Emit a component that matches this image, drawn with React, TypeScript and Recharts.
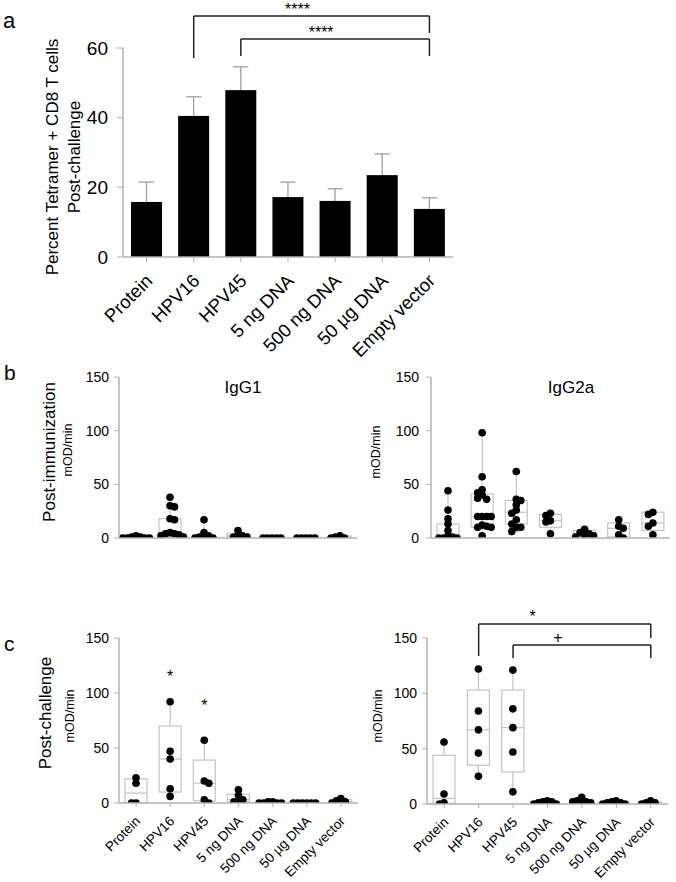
import React from 'react';
import { BarChart, ComposedChart, Bar, XAxis, YAxis, ReferenceLine, ReferenceDot } from 'recharts';

// ---------- categories ----------
const groups = ['Protein', 'HPV16', 'HPV45', '5 ng DNA', '500 ng DNA', '50 µg DNA', 'Empty vector'];

// ---------- panel a : % tetramer+ CD8 T cells ----------
const tetramerMean = [15.8, 40.5, 47.9, 17.2, 16.1, 23.5, 13.8];
const tetramerSem = [5.7, 5.5, 6.7, 4.3, 3.5, 6.1, 3.2];
const tetramerTicks = [0, 20, 40, 60];
const tetramerBrackets = [
  { from: 'HPV16', to: 'Empty vector', top: 69.2, leftEnd: 57.1, rightEnd: 64.3, text: '****' },
  { from: 'HPV45', to: 'Empty vector', top: 62.6, leftEnd: 57.7, rightEnd: 57.7, text: '****' },
];

// ---------- panel b : post-immunization ----------
const odTicks = [0, 50, 100, 150];
const igg1Imm = [
  [2, 1, 1, 0, 0, 0, 0],
  [38, 30, 29, 18, 17, 5, 4, 4, 3, 2, 1],
  [17, 5, 2, 1, 0, 0, 0],
  [7, 2, 2, 1, 1],
  [0, 0, 0, 0, 0],
  [0, 0, 0, 0, 0],
  [2, 1, 0, 0],
];
const igg1ImmQ1 = [0, 2, 0, 1, 0, 0, 0];
const igg1ImmMed = [0, 4, 1, 2, 0, 0, 1];
const igg1ImmQ3 = [1, 18, 3, 4, 0, 0, 2];

const igg2aImm = [
  [44, 26, 18, 13, 7, 2, 1, 0, 0, 0],
  [98, 57, 45, 42, 40, 37, 36, 20, 20, 20, 20, 12, 11, 10, 10, 2],
  [62, 36, 35, 31, 26, 23, 17, 13, 10, 10, 6],
  [23, 21, 16, 15, 4],
  [8, 5, 4, 3, 2, 1],
  [17, 11, 9, 3, 0],
  [24, 22, 14, 11, 3],
];
const igg2aImmQ1 = [0, 10, 13, 10, 2, 1, 7];
const igg2aImmMed = [2, 20, 24, 16, 4, 9, 14];
const igg2aImmQ3 = [13, 41, 35, 22, 7, 14, 24];

// ---------- panel c : post-challenge ----------
const igg1Chal = [
  [23, 18, 0, 0],
  [92, 47, 40, 13, 6],
  [57, 20, 18, 3, 0],
  [12, 7, 3, 1, 1],
  [1, 1, 0, 0, 0, 0],
  [0, 0, 0, 0, 0, 0],
  [4, 2, 1, 0],
];
const igg1ChalQ1 = [0, 10, 2, 1, 0, 0, 0];
const igg1ChalMed = [9, 40, 18, 3, 0, 0, 1];
const igg1ChalQ3 = [22, 70, 39, 8, 1, 0, 3];
const igg1ChalStars = [
  { group: 'HPV16', y: 115.5, text: '*' },
  { group: 'HPV45', y: 89, text: '*' },
];

const igg2aChal = [
  [56, 9, 1, 0],
  [122, 84, 67, 46, 25],
  [121, 86, 69, 47, 11],
  [3, 2, 2, 1, 0, 0],
  [6, 3, 2, 2, 1, 1],
  [3, 2, 1, 1, 0, 0],
  [3, 1, 1, 0],
];
const igg2aChalQ1 = [0.5, 35, 29, 0, 1, 0, 0];
const igg2aChalMed = [5, 67, 69, 1, 2, 1, 1];
const igg2aChalQ3 = [44, 103, 103, 2, 3, 2, 2];
const igg2aChalBrackets = [
  { from: 'HPV16', to: 'Empty vector', top: 162.6, leftEnd: 133.7, rightEnd: 150, text: '*' },
  { from: 'HPV45', to: 'Empty vector', top: 143.7, leftEnd: 131.9, rightEnd: 131.9, text: '+' },
];

// ---------- derived tables ----------
const tetramerRows = groups.map((g, i) => ({ group: g, mean: tetramerMean[i], sem: tetramerSem[i] }));
const mkRows = (vals: number[][], q1: number[], med: number[], q3: number[]) =>
  groups.map((g, i) => ({ group: g, vals: vals[i], q1: q1[i], med: med[i], q3: q3[i] }));
const igg1ImmRows = mkRows(igg1Imm, igg1ImmQ1, igg1ImmMed, igg1ImmQ3);
const igg2aImmRows = mkRows(igg2aImm, igg2aImmQ1, igg2aImmMed, igg2aImmQ3);
const igg1ChalRows = mkRows(igg1Chal, igg1ChalQ1, igg1ChalMed, igg1ChalQ3);
const igg2aChalRows = mkRows(igg2aChal, igg2aChalQ1, igg2aChalMed, igg2aChalQ3);

// ---------- styling ----------
const FONT = '"Liberation Sans", Arial, Helvetica, sans-serif';
const AXIS = '#b3b3b3';
const INK = '#000';
const BOX = '#c4c4c4';
const DOT_R = 3.8;

// simple beeswarm in pixel space
function swarm(ys: number[]): number[] {
  const step = 4.5, minD = 4.5, maxOff = 13.5;
  const order = ys.map((_, i) => i).sort((a, b) => ys[a] - ys[b]);
  const placed: { x: number; y: number }[] = [];
  const res = new Array(ys.length).fill(0);
  order.forEach((i, k) => {
    const cands = [0];
    for (let s = 1; s * step <= maxOff + 0.01; s++) {
      if (k % 2) cands.push(-s * step, s * step);
      else cands.push(s * step, -s * step);
    }
    let best = 0, bestD = -1;
    for (const c of cands) {
      let d = Infinity;
      for (const p of placed) d = Math.min(d, Math.hypot(p.x - c, p.y - ys[i]));
      if (d >= minD) { best = c; bestD = Infinity; break; }
      if (d > bestD) { bestD = d; best = c; }
    }
    res[i] = best;
    placed.push({ x: best, y: ys[i] });
  });
  return res;
}

const makeBoxShape = (lo: number, hi: number) => (props: any) => {
  const { x, y, width, height, payload } = props;
  const py = (v: number) => y + (height * (hi - v)) / (hi - lo);
  const cx = x + width / 2;
  const vals: number[] = payload.vals;
  const mn = Math.min(...vals);
  const mx = Math.max(...vals);
  const ys = vals.map(py);
  const offs = swarm(ys);
  const yq1 = py(payload.q1), yq3 = py(payload.q3), ym = py(payload.med);
  return (
    <g>
      <line x1={cx} x2={cx} y1={py(mx)} y2={yq3} stroke={BOX} strokeWidth={1.2} />
      <line x1={cx} x2={cx} y1={yq1} y2={py(mn)} stroke={BOX} strokeWidth={1.2} />
      <line x1={cx - 4} x2={cx + 4} y1={py(mx)} y2={py(mx)} stroke={BOX} strokeWidth={1.2} />
      <line x1={cx - 4} x2={cx + 4} y1={py(mn)} y2={py(mn)} stroke={BOX} strokeWidth={1.2} />
      <rect x={x} y={yq3} width={width} height={Math.max(0, yq1 - yq3)} fill="none" stroke={BOX} strokeWidth={1.2} />
      <line x1={x} x2={x + width} y1={ym} y2={ym} stroke={BOX} strokeWidth={1.2} />
      {vals.map((v, i) => (
        <circle key={i} cx={cx + offs[i]} cy={ys[i]} r={DOT_R} fill="#000" />
      ))}
    </g>
  );
};

const TetramerBar = (props: any) => {
  const { x, y, width, height, payload } = props;
  const perUnit = height / payload.mean;
  const ey = y - payload.sem * perUnit;
  const cx = x + width / 2;
  return (
    <g>
      <line x1={cx} x2={cx} y1={y} y2={ey} stroke="#a0a0a0" strokeWidth={1.3} />
      <line x1={cx - 7.5} x2={cx + 7.5} y1={ey} y2={ey} stroke="#a0a0a0" strokeWidth={1.3} />
      <rect x={x} y={y} width={width} height={height} fill="#000" />
    </g>
  );
};

const makeRotTick = (fontSize: number, dx: number, dy: number) => (props: any) => {
  const { x, y, payload } = props;
  const tx = x + dx, ty = y + dy;
  return (
    <text x={tx} y={ty} transform={`rotate(-45 ${tx} ${ty})`} textAnchor="end" fontSize={fontSize} fill={INK} fontFamily={FONT}>
      {payload.value}
    </text>
  );
};

const renderBrackets = (list: any[], dxs: number[], fontSize: number, off: number) =>
  list.flatMap((b, i) => [
    <ReferenceLine key={`l${i}`} segment={[{ x: b.from, y: b.leftEnd }, { x: b.from, y: b.top }]} stroke="#222" strokeWidth={1.5} ifOverflow="visible" />,
    <ReferenceLine
      key={`h${i}`}
      segment={[{ x: b.from, y: b.top }, { x: b.to, y: b.top }]}
      stroke="#222"
      strokeWidth={1.5}
      ifOverflow="visible"
      label={(p: any) => {
        const vb = p.viewBox || {};
        const cx = (vb.x ?? 0) + (vb.width ?? 0) / 2 + dxs[i];
        return (
          <text x={cx} y={(vb.y ?? 0) - off} textAnchor="middle" fontSize={fontSize} fill="#000" stroke="none" fontFamily={FONT}>
            {b.text}
          </text>
        );
      }}
    />,
    <ReferenceLine key={`r${i}`} segment={[{ x: b.to, y: b.top }, { x: b.to, y: b.rightEnd }]} stroke="#222" strokeWidth={1.5} ifOverflow="visible" />,
  ]);

type BoxPanelProps = {
  rows: any[];
  left: number; top: number; width: number; height: number;
  marginTop: number; marginRight: number;
  yAxisWidth: number; yTickMargin: number;
  xAxisHeight: number; showLabels: boolean;
  extras?: React.ReactNode;
};

const OD_LO = odTicks[0];
const OD_HI = odTicks[odTicks.length - 1];
const boxShape = makeBoxShape(OD_LO, OD_HI);
const cTick = makeRotTick(13.5, 5, 13);

const BoxPanel = (p: BoxPanelProps) => (
  <div style={{ position: 'absolute', left: p.left, top: p.top }}>
    <ComposedChart width={p.width} height={p.height} data={p.rows} margin={{ top: p.marginTop, right: p.marginRight, bottom: 0, left: 0 }}>
      <XAxis
        dataKey="group"
        height={p.xAxisHeight}
        axisLine={{ stroke: AXIS, strokeWidth: 1.5 }}
        tickLine={{ stroke: AXIS }}
        tickSize={4}
        interval={0}
        tick={p.showLabels ? cTick : false}
      />
      <YAxis
        width={p.yAxisWidth}
        domain={[OD_LO, OD_HI]}
        ticks={odTicks}
        axisLine={{ stroke: AXIS, strokeWidth: 1.5 }}
        tickLine={{ stroke: AXIS }}
        tickSize={5}
        tickMargin={p.yTickMargin}
        tick={{ fill: INK, fontSize: 14, fontFamily: FONT }}
        allowDataOverflow
      />
      <Bar dataKey={() => [OD_LO, OD_HI]} barSize={22} shape={boxShape} isAnimationActive={false} />
      {p.extras}
    </ComposedChart>
  </div>
);

const rotText = (cx: number, cy: number, fs: number, s: string) => (
  <text x={cx} y={cy} dy="0.35em" transform={`rotate(-90 ${cx} ${cy})`} textAnchor="middle" fontSize={fs} fill={INK} fontFamily={FONT}>
    {s}
  </text>
);

export default function App() {
  const aTick = makeRotTick(18.5, 7, 18);
  return (
    <div style={{ position: 'absolute', left: 0, top: 0, width: 676, height: 882, background: '#fff', fontFamily: FONT, overflow: 'hidden' }}>
      {/* panel a */}
      <div style={{ position: 'absolute', left: 0, top: 0 }}>
        <BarChart width={476} height={362} data={tetramerRows} margin={{ top: 48, right: 23, bottom: 0, left: 0 }}>
          <XAxis
            dataKey="group"
            height={105}
            interval={0}
            axisLine={{ stroke: AXIS, strokeWidth: 1.5 }}
            tickLine={{ stroke: AXIS }}
            tickSize={5}
            tick={aTick}
          />
          <YAxis
            width={123}
            domain={[0, 60]}
            ticks={tetramerTicks}
            axisLine={{ stroke: AXIS, strokeWidth: 1.5 }}
            tickLine={{ stroke: AXIS }}
            tickSize={6}
            tickMargin={9}
            tick={{ fill: INK, fontSize: 19, fontFamily: FONT }}
          />
          <Bar dataKey="mean" barSize={31} shape={TetramerBar} isAnimationActive={false} />
          {renderBrackets(tetramerBrackets, [-14, -14], 16, 1)}
        </BarChart>
      </div>

      {/* panel b */}
      <BoxPanel rows={igg1ImmRows} left={0} top={360} width={360} height={190} marginTop={17} marginRight={3}
        yAxisWidth={119} yTickMargin={5} xAxisHeight={12} showLabels={false} />
      <BoxPanel rows={igg2aImmRows} left={340} top={360} width={336} height={190} marginTop={17} marginRight={6}
        yAxisWidth={91} yTickMargin={7} xAxisHeight={12} showLabels={false} />

      {/* panel c */}
      <BoxPanel rows={igg1ChalRows} left={0} top={600} width={360} height={282} marginTop={38} marginRight={2}
        yAxisWidth={119} yTickMargin={5} xAxisHeight={79} showLabels={true}
        extras={igg1ChalStars.map((s, i) => (
          <ReferenceDot key={`s${i}`} x={s.group} y={s.y} r={1} fill="none" stroke="none" ifOverflow="visible"
            label={{ value: s.text, position: 'center', fontSize: 16, fill: INK }} />
        ))}
      />
      <BoxPanel rows={igg2aChalRows} left={340} top={600} width={336} height={282} marginTop={38} marginRight={8}
        yAxisWidth={87} yTickMargin={5} xAxisHeight={78} showLabels={true}
        extras={renderBrackets(igg2aChalBrackets, [-32, -24], 16, 2)}
      />

      {/* text overlay */}
      <svg width={676} height={882} style={{ position: 'absolute', left: 0, top: 0, pointerEvents: 'none' }}>
        <text x={3} y={28} fontSize={22} fill={INK} fontFamily={FONT}>a</text>
        <text x={4} y={380} fontSize={21} fill={INK} fontFamily={FONT}>b</text>
        <text x={4} y={651} fontSize={21} fill={INK} fontFamily={FONT}>c</text>
        {rotText(52, 157, 17, 'Percent Tetramer + CD8 T cells')}
        {rotText(74, 157, 17, 'Post-challenge')}
        {rotText(49, 452, 17, 'Post-immunization')}
        {rotText(68, 450, 12.5, 'mOD/min')}
        {rotText(376, 452, 12.5, 'mOD/min')}
        {rotText(45, 713, 17, 'Post-challenge')}
        {rotText(70, 716, 12.5, 'mOD/min')}
        {rotText(378, 716, 12.5, 'mOD/min')}
        <text x={243} y={393} textAnchor="middle" fontSize={17} fill={INK} fontFamily={FONT}>IgG1</text>
        <text x={571} y={393} textAnchor="middle" fontSize={17} fill={INK} fontFamily={FONT}>IgG2a</text>
      </svg>
    </div>
  );
}
